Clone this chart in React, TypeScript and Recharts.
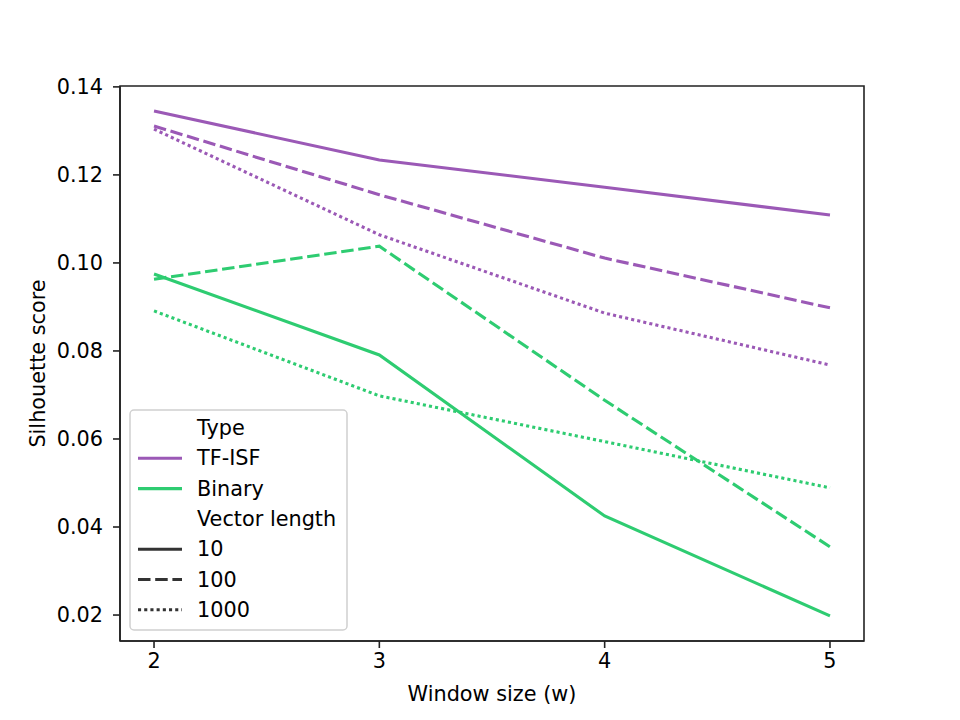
import React from "react";
import { Line, LineChart, ReferenceArea, XAxis, YAxis } from "recharts";

const windows = [2, 3, 4, 5];
const tfisf10 = [0.1345, 0.1234, 0.1172, 0.1109];
const tfisf100 = [0.1311, 0.1155, 0.1011, 0.0898];
const tfisf1000 = [0.1304, 0.1064, 0.0886, 0.0768];
const binary10 = [0.0975, 0.0791, 0.0425, 0.0198];
const binary100 = [0.0963, 0.1038, 0.0688, 0.0355];
const binary1000 = [0.0891, 0.0698, 0.0594, 0.0489];

const yTicks = [0.02, 0.04, 0.06, 0.08, 0.1, 0.12, 0.14];

const X_DOMAIN: [number, number] = [1.849, 5.151];
const Y_DOMAIN: [number, number] = [0.0141, 0.1402];

const PURPLE = "#9b59b6";
const GREEN = "#2ecc71";
const DARK = "#333333";
const FONT = "'DejaVu Sans', sans-serif";
const FS = 20.8;

const DASHES: Record<string, string | undefined> = {
  "10": undefined,
  "100": "12.5 4.7",
  "1000": "3.1 3.1",
};

const series = [
  { key: "tfisf10", values: tfisf10, color: PURPLE, len: "10" },
  { key: "tfisf100", values: tfisf100, color: PURPLE, len: "100" },
  { key: "tfisf1000", values: tfisf1000, color: PURPLE, len: "1000" },
  { key: "binary10", values: binary10, color: GREEN, len: "10" },
  { key: "binary100", values: binary100, color: GREEN, len: "100" },
  { key: "binary1000", values: binary1000, color: GREEN, len: "1000" },
];

const data = windows.map((w, i) => {
  const row: Record<string, number> = { w };
  series.forEach((s) => (row[s.key] = s.values[i]));
  return row;
});

const legendRows: Array<{ label: string; color?: string; dash?: string }> = [
  { label: "Type" },
  { label: "TF-ISF", color: PURPLE },
  { label: "Binary", color: GREEN },
  { label: "Vector length" },
  { label: "10", color: DARK, dash: DASHES["10"] },
  { label: "100", color: DARK, dash: DASHES["100"] },
  { label: "1000", color: DARK, dash: DASHES["1000"] },
];

const tickStyle = { fill: "#000", fontSize: FS, fontFamily: FONT };

function LegendBox() {
  return (
    <svg
      width={222}
      height={226}
      style={{ position: "absolute", left: 129, top: 409 }}
    >
      <rect
        x={1}
        y={1}
        width={217}
        height={220}
        rx={4}
        fill="#fff"
        fillOpacity={0.8}
        stroke="#d0d0d0"
        strokeWidth={1.5}
      />
      {legendRows.map((r, i) => {
        const y = 19 + i * 30.3;
        return (
          <g key={r.label}>
            {r.color && (
              <line
                x1={9}
                x2={53}
                y1={y}
                y2={y}
                stroke={r.color}
                strokeWidth={3.1}
                strokeDasharray={r.dash}
              />
            )}
            <text
              x={68}
              y={y + 7}
              fontSize={FS}
              fontFamily={FONT}
              fill="#000"
            >
              {r.label}
            </text>
          </g>
        );
      })}
    </svg>
  );
}

export default function App() {
  return (
    <div
      style={{
        position: "absolute",
        left: 0,
        top: 0,
        width: 960,
        height: 720,
        background: "#fff",
      }}
    >
      <LineChart
        width={960}
        height={720}
        data={data}
        margin={{ top: 86, right: 96, left: 0, bottom: 0 }}
      >
        <XAxis
          dataKey="w"
          type="number"
          domain={X_DOMAIN}
          ticks={windows}
          height={79}
          tick={tickStyle}
          tickSize={7}
          tickMargin={5}
          axisLine={{ stroke: "#222", strokeWidth: 1.6 }}
          tickLine={{ stroke: "#222", strokeWidth: 1.6 }}
          label={{
            value: "Window size (w)",
            position: "insideBottom",
            offset: 19,
            style: { ...tickStyle, textAnchor: "middle" },
          }}
        />
        <YAxis
          type="number"
          domain={Y_DOMAIN}
          ticks={yTicks}
          width={120}
          tick={tickStyle}
          tickSize={7}
          tickMargin={10}
          tickFormatter={(v: number) => v.toFixed(2)}
          axisLine={{ stroke: "#222", strokeWidth: 1.6 }}
          tickLine={{ stroke: "#222", strokeWidth: 1.6 }}
          label={{
            value: "Silhouette score",
            angle: -90,
            position: "insideLeft",
            offset: 38,
            style: { ...tickStyle, textAnchor: "middle" },
          }}
        />
        <ReferenceArea
          x1={X_DOMAIN[0]}
          x2={X_DOMAIN[1]}
          y1={Y_DOMAIN[0]}
          y2={Y_DOMAIN[1]}
          fill="none"
          fillOpacity={0}
          stroke="#222"
          strokeWidth={1.6}
          ifOverflow="visible"
        />
        {series.map((s) => (
          <Line
            key={s.key}
            dataKey={s.key}
            type="linear"
            stroke={s.color}
            strokeWidth={3.1}
            strokeDasharray={DASHES[s.len]}
            dot={false}
            activeDot={false}
            isAnimationActive={false}
          />
        ))}
      </LineChart>
      <LegendBox />
    </div>
  );
}
